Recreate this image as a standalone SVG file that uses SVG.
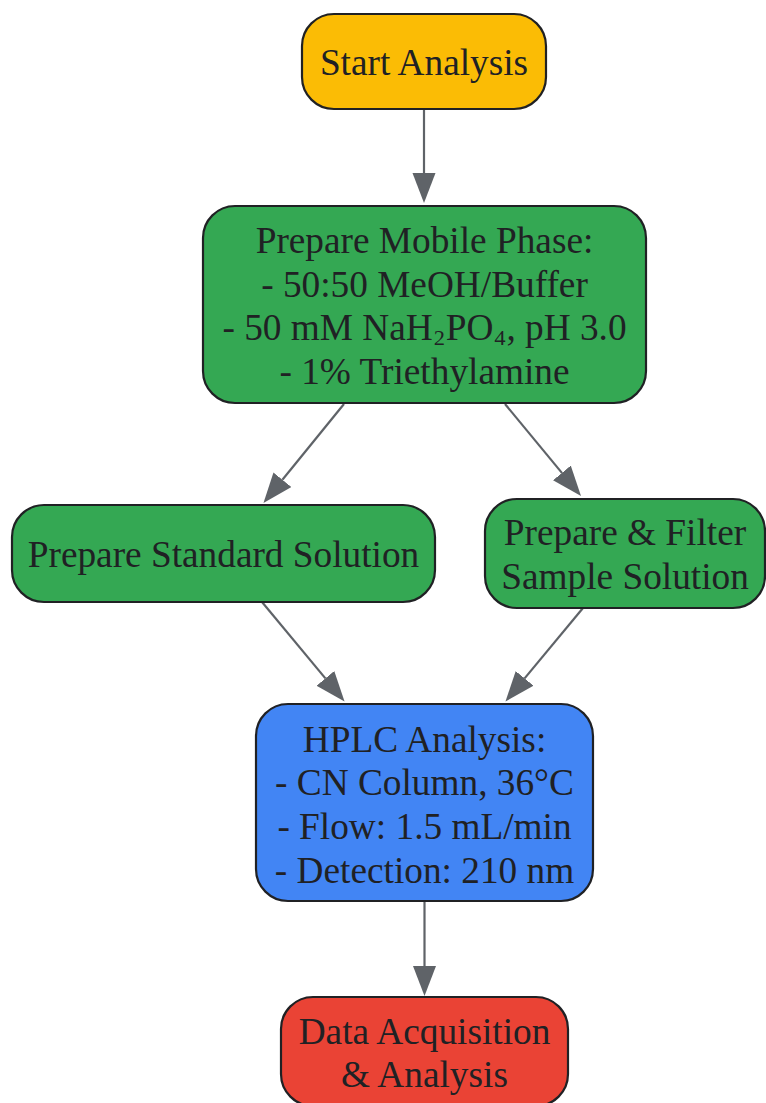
<svg xmlns="http://www.w3.org/2000/svg" width="766" height="1103" viewBox="0 0 766 1103">
<style>
.n{stroke:#202124;stroke-width:2.2}
.t{font-family:"Liberation Serif","Times New Roman",serif;font-size:37.3px;fill:#202124;text-anchor:middle}
.e{stroke:#5F6368;stroke-width:2.2;fill:none}
</style>
<defs>
<marker id="ah" markerUnits="userSpaceOnUse" markerWidth="31" markerHeight="24" refX="0" refY="11.5" orient="auto" viewBox="0 0 31 24">
<path d="M0,0 L30,11.5 L0,23 z" fill="#5F6368"/>
</marker>
</defs>
<rect width="766" height="1103" fill="#ffffff"/>
<g id="connectors">
<line class="e" x1="424" y1="110" x2="424" y2="173" marker-end="url(#ah)"/>
<line class="e" x1="344" y1="404" x2="282.4" y2="479.7" marker-end="url(#ah)"/>
<line class="e" x1="505" y1="404" x2="561.9" y2="472.9" marker-end="url(#ah)"/>
<line class="e" x1="262" y1="602" x2="325.4" y2="678.4" marker-end="url(#ah)"/>
<line class="e" x1="583" y1="608" x2="524.6" y2="678.4" marker-end="url(#ah)"/>
<line class="e" x1="424.5" y1="902" x2="424.5" y2="966" marker-end="url(#ah)"/>
</g>
<g id="start">
<rect class="n" x="302" y="14" width="244" height="95" rx="32" fill="#FBBC05"/>
<text class="t" x="424" y="75">Start Analysis</text>
</g>
<g id="mobile">
<rect class="n" x="203" y="206" width="443" height="197" rx="32" fill="#34A853"/>
<text class="t" x="424.5" y="252.5">Prepare Mobile Phase:</text>
<text class="t" x="424.5" y="296.5">- 50:50 MeOH/Buffer</text>
<text class="t" x="424.5" y="339.8">- 50 mM NaH<tspan dy="-2">₂</tspan><tspan dy="2">PO</tspan><tspan dy="-2">₄</tspan><tspan dy="2">, pH 3.0</tspan></text>
<text class="t" x="424.5" y="384">- 1% Triethylamine</text>
</g>
<g id="standard">
<rect class="n" x="12" y="505" width="423" height="97" rx="32" fill="#34A853"/>
<text class="t" x="223.5" y="567">Prepare Standard Solution</text>
</g>
<g id="sample">
<rect class="n" x="485" y="499" width="280" height="109" rx="32" fill="#34A853"/>
<text class="t" x="625" y="545">Prepare &amp; Filter</text>
<text class="t" x="625" y="588.5">Sample Solution</text>
</g>
<g id="hplc">
<rect class="n" x="256" y="704" width="337" height="197" rx="32" fill="#4285F4"/>
<text class="t" x="424.5" y="751.5">HPLC Analysis:</text>
<text class="t" x="424.5" y="795">- CN Column, 36°C</text>
<text class="t" x="424.5" y="838.5">- Flow: 1.5 mL/min</text>
<text class="t" x="424.5" y="882.5">- Detection: 210 nm</text>
</g>
<g id="data">
<rect class="n" x="281" y="997" width="287" height="109" rx="32" fill="#EA4335"/>
<text class="t" x="424.5" y="1043.5">Data Acquisition</text>
<text class="t" x="424.5" y="1087">&amp; Analysis</text>
</g>
</svg>
